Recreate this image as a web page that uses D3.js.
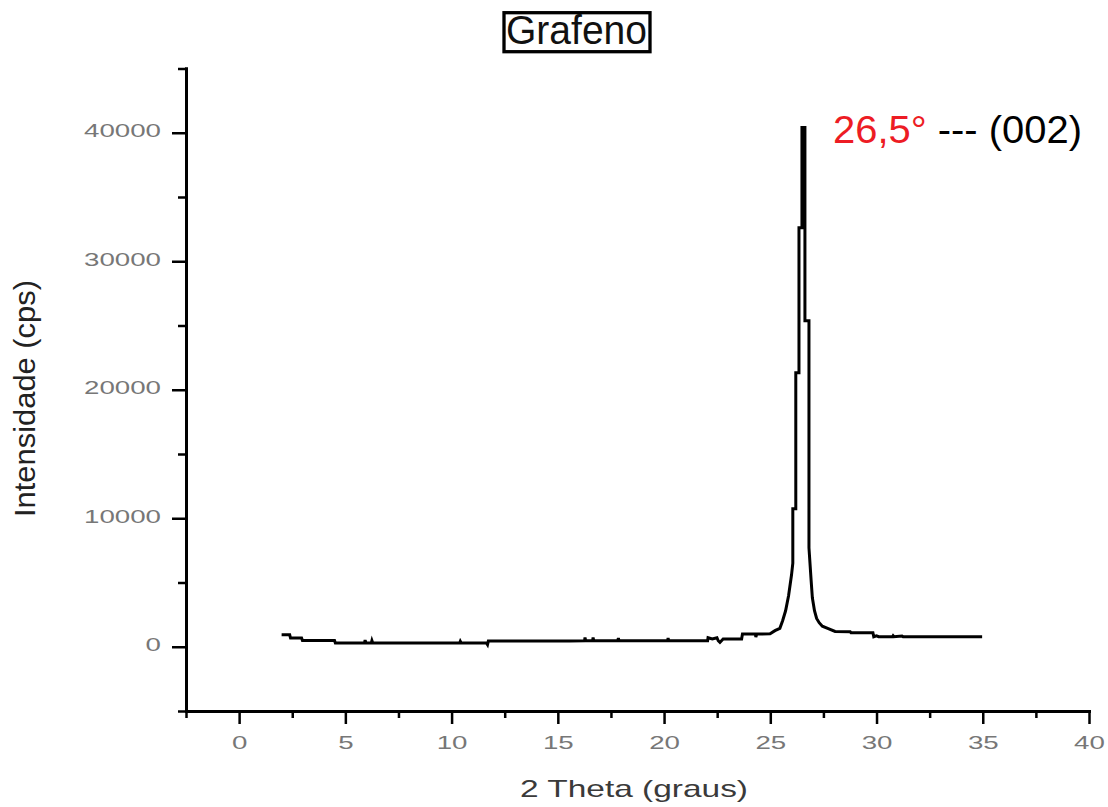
<!DOCTYPE html>
<html><head><meta charset="utf-8">
<script src="https://cdn.jsdelivr.net/npm/d3@7"></script>
<style>body{margin:0;background:#fff} svg{display:block}</style>
</head><body>
<svg id="chart" width="1108" height="807"></svg>
<script>
// ---------- data ----------
const chartTitle = "Grafeno";
const xAxisTitle = "2 Theta (graus)";
const yAxisTitle = "Intensidade (cps)";
const peakAngleLabel = "26,5°";
const peakIndexLabel = " --- (002)";

const xMajorTicks = [0, 5, 10, 15, 20, 25, 30, 35, 40];
const xMinorTicks = [-2.5, 2.5, 7.5, 12.5, 17.5, 22.5, 27.5, 32.5, 37.5];
const yMajorTicks = [0, 10000, 20000, 30000, 40000];
const yMinorTicks = [-5000, 5000, 15000, 25000, 35000, 45000];

const twoTheta = [
  2.00, 2.38, 2.42, 2.94, 2.98, 4.49, 4.53, 5.90, 5.93, 5.97, 6.22, 6.25, 6.29,
  8.50, 10.38, 10.41, 10.45, 11.64, 11.69, 11.73, 15.55, 16.26, 16.28, 16.31,
  16.64, 16.66, 16.69, 17.82, 17.85, 17.88, 20.17, 20.19, 20.22, 22.05, 22.07,
  22.27, 22.49, 22.55, 22.63, 22.78, 23.65, 23.69, 24.30, 24.32, 24.36, 24.99,
  25.22, 25.45, 25.58, 25.72, 25.86, 26.00, 26.06, 26.06,
  26.20, 26.20, 26.35, 26.35, 26.49, 26.49, 26.63, 26.63, 26.82, 26.82, 26.92,
  26.98, 27.08, 27.18, 27.30, 27.45, 27.70, 28.05, 28.76, 28.80, 29.83,
  29.87, 30.00, 30.10, 30.75, 30.78, 30.82, 31.20, 31.25, 34.97
];
const intensity = [
  940, 930, 680, 680, 490, 490, 290, 290, 520, 290, 290, 480, 290,
  290, 290, 420, 290, 290, 160, 440, 440, 467, 720, 467,
  467, 720, 467, 467, 680, 467, 467, 680, 467, 467, 700,
  600, 700, 467, 335, 600, 600, 990, 990, 760, 990, 1010,
  1250, 1430, 2020, 2800, 3970, 5600, 6500, 10740,
  10740, 21320, 21320, 32600, 32600, 40400, 40400, 25370, 25370, 7700, 5200,
  3810, 2800, 2200, 1870, 1600, 1430, 1190, 1170, 1090, 1090,
  780, 850, 780, 780, 860, 780, 840, 780, 780
];

// ---------- drawing ----------
const FONT = "'Liberation Sans', Arial, sans-serif";
const svg = d3.select("#chart");

const x = d3.scaleLinear().domain([-2.5, 40]).range([186, 1089]);
const y = d3.scaleLinear().domain([-5000, 45000]).range([711, 68.5]);

function styleAxis(g, tickW) {
  g.select(".domain").attr("stroke", "#000").attr("stroke-width", 3).attr("stroke-linecap", "square");
  g.selectAll(".tick line").attr("stroke", "#000").attr("stroke-width", tickW);
}

// x axis
const gxMinor = svg.append("g").attr("transform", `translate(0,${y(-5000)})`)
  .call(d3.axisBottom(x).tickValues(xMinorTicks).tickSize(7).tickSizeOuter(0).tickFormat(""));
styleAxis(gxMinor, 2.5);
const gx = svg.append("g").attr("transform", `translate(0,${y(-5000)})`)
  .call(d3.axisBottom(x).tickValues(xMajorTicks).tickSize(13).tickSizeOuter(0).tickFormat(d3.format("d")));
styleAxis(gx, 2.5);
gx.selectAll(".tick text")
  .attr("y", 38).attr("dy", null)
  .attr("font-family", FONT).attr("font-size", 19).attr("fill", "#777")
  .attr("textLength", function(){ return this.textContent.length * 15.4; })
  .attr("lengthAdjust", "spacingAndGlyphs");

// y axis
const gyMinor = svg.append("g").attr("transform", `translate(${x(-2.5)},0)`)
  .call(d3.axisLeft(y).tickValues(yMinorTicks).tickSize(8).tickSizeOuter(0).tickFormat(""));
styleAxis(gyMinor, 2.5);
const gy = svg.append("g").attr("transform", `translate(${x(-2.5)},0)`)
  .call(d3.axisLeft(y).tickValues(yMajorTicks).tickSize(14).tickSizeOuter(0).tickFormat(d3.format("d")));
styleAxis(gy, 2.5);
gy.selectAll(".tick text")
  .attr("x", -25).attr("y", 4).attr("dy", null)
  .attr("text-anchor", "end")
  .attr("font-family", FONT).attr("font-size", 19).attr("fill", "#777")
  .attr("textLength", function(){ return this.textContent.length * 15.4; })
  .attr("lengthAdjust", "spacingAndGlyphs");

// data line
const pts = twoTheta.map((t, i) => [t, intensity[i]]);
svg.append("path")
  .datum(pts)
  .attr("fill", "none")
  .attr("stroke", "#000")
  .attr("stroke-width", 3)
  .attr("stroke-linejoin", "miter")
  .attr("d", d3.line().x(d => x(d[0])).y(d => y(d[1])));

// title with box
svg.append("rect")
  .attr("x", 504).attr("y", 12.7).attr("width", 146).attr("height", 39)
  .attr("fill", "#fff").attr("stroke", "#000").attr("stroke-width", 3.3);
svg.append("text")
  .attr("x", 576.5).attr("y", 44.3).attr("text-anchor", "middle")
  .attr("font-family", FONT).attr("font-size", 40).attr("fill", "#111")
  .attr("textLength", 141).attr("lengthAdjust", "spacingAndGlyphs")
  .text(chartTitle);

// axis titles
svg.append("text")
  .attr("x", 634).attr("y", 797).attr("text-anchor", "middle")
  .attr("font-family", FONT).attr("font-size", 24).attr("fill", "#3a3a3a")
  .attr("textLength", 228).attr("lengthAdjust", "spacingAndGlyphs")
  .text(xAxisTitle);
svg.append("text")
  .attr("transform", "translate(35,398.5) rotate(-90)").attr("text-anchor", "middle")
  .attr("font-family", FONT).attr("font-size", 30).attr("fill", "#222")
  .attr("textLength", 237).attr("lengthAdjust", "spacingAndGlyphs")
  .text(yAxisTitle);

// peak annotation
const ann = svg.append("text")
  .attr("x", 833).attr("y", 143.3)
  .attr("font-family", FONT).attr("font-size", 39)
  .attr("textLength", 249).attr("lengthAdjust", "spacingAndGlyphs");
ann.append("tspan").attr("fill", "#ed1c24").text(peakAngleLabel);
ann.append("tspan").attr("fill", "#000").text(peakIndexLabel);
</script>
</body></html>
